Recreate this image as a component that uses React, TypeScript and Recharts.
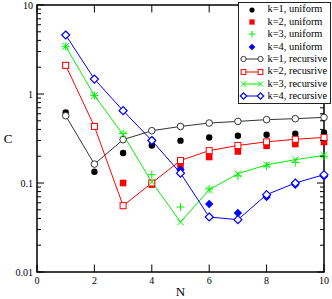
import React from "react";
import { ComposedChart, Line, XAxis, YAxis, ReferenceArea, Legend } from "recharts";

const N_VALUES = [1, 2, 3, 4, 5, 6, 7, 8, 9, 10];

const K1_UNIFORM = [0.62, 0.134, 0.217, 0.264, 0.299, 0.325, 0.34, 0.349, 0.358, 0.37];
const K2_UNIFORM = [2.1, 0.43, 0.1, 0.096, 0.154, 0.196, 0.226, 0.262, 0.274, 0.289];
const K3_UNIFORM = [3.43, 0.96, 0.36, 0.124, 0.0537, 0.0856, 0.12, 0.155, 0.17, 0.2];
const K4_UNIFORM = [4.6, 1.47, 0.65, 0.3, 0.141, 0.058, 0.046, 0.0696, 0.0957, 0.1186];

const K1_RECURSIVE = [0.57, 0.163, 0.307, 0.387, 0.432, 0.472, 0.492, 0.515, 0.528, 0.546];
const K2_RECURSIVE = [2.1, 0.432, 0.0556, 0.1, 0.179, 0.231, 0.264, 0.29, 0.31, 0.325];
const K3_RECURSIVE = [3.43, 0.96, 0.35, 0.1025, 0.0365, 0.084, 0.127, 0.16, 0.183, 0.204];
const K4_RECURSIVE = [4.6, 1.47, 0.65, 0.3, 0.129, 0.0415, 0.0387, 0.074, 0.1, 0.124];

const X_TICKS = [0, 2, 4, 6, 8, 10];
const Y_DECADES = [0.01, 0.1, 1];
const Y_MAJOR_LABELS: Record<string, string> = { "0.01": "0.01", "0.1": "0.1", "1": "1", "10": "10" };

const Y_TICKS = Y_DECADES.flatMap((d) => [1, 2, 3, 4, 5, 6, 7, 8, 9].map((m) => m * d)).concat(10);

const data = N_VALUES.map((n, i) => ({
  n,
  u1: K1_UNIFORM[i],
  u2: K2_UNIFORM[i],
  u3: K3_UNIFORM[i],
  u4: K4_UNIFORM[i],
  r1: K1_RECURSIVE[i],
  r2: K2_RECURSIVE[i],
  r3: K3_RECURSIVE[i],
  r4: K4_RECURSIVE[i],
}));

type Shape = "dot" | "square" | "plus" | "diamond" | "ocircle" | "osquare" | "cross" | "odiamond";

const SERIES: { key: string; label: string; shape: Shape; color: string; line: boolean }[] = [
  { key: "u1", label: "k=1, uniform", shape: "dot", color: "#000000", line: false },
  { key: "u2", label: "k=2, uniform", shape: "square", color: "#ff0000", line: false },
  { key: "u3", label: "k=3, uniform", shape: "plus", color: "#00f000", line: false },
  { key: "u4", label: "k=4, uniform", shape: "diamond", color: "#0000ff", line: false },
  { key: "r1", label: "k=1, recursive", shape: "ocircle", color: "#333333", line: true },
  { key: "r2", label: "k=2, recusrive", shape: "osquare", color: "#ff0000", line: true },
  { key: "r3", label: "k=3, recursive", shape: "cross", color: "#00f000", line: true },
  { key: "r4", label: "k=4, recursive", shape: "odiamond", color: "#0000ff", line: true },
];

const FONT = "'Liberation Serif', 'Times New Roman', serif";
const PLOT_LEFT = 37;
const PLOT_RIGHT = 324;
const PLOT_TOP = 5;
const PLOT_BOTTOM = 272;

const Marker = ({ shape, cx, cy, color, s = 1 }: { shape: Shape; cx: number; cy: number; color: string; s?: number }) => {
  switch (shape) {
    case "dot":
      return <circle cx={cx} cy={cy} r={3.2 * s} fill={color} />;
    case "square":
      return <rect x={cx - 3.3 * s} y={cy - 3.3 * s} width={6.6 * s} height={6.6 * s} fill={color} />;
    case "plus":
      return (
        <g stroke={color} strokeWidth={1}>
          <line x1={cx - 4 * s} y1={cy} x2={cx + 4 * s} y2={cy} />
          <line x1={cx} y1={cy - 4 * s} x2={cx} y2={cy + 4 * s} />
        </g>
      );
    case "diamond": {
      const h = 4.2 * s;
      return <polygon points={`${cx},${cy - h} ${cx + h},${cy} ${cx},${cy + h} ${cx - h},${cy}`} fill={color} />;
    }
    case "ocircle":
      return <circle cx={cx} cy={cy} r={3.3 * s} fill="#fff" stroke={color} strokeWidth={1} />;
    case "osquare":
      return <rect x={cx - 3 * s} y={cy - 3 * s} width={6 * s} height={6 * s} fill="#fff" stroke={color} strokeWidth={1} />;
    case "cross": {
      const h = 3.3 * s;
      return (
        <g stroke={color} strokeWidth={1}>
          <line x1={cx - h} y1={cy - h} x2={cx + h} y2={cy + h} />
          <line x1={cx - h} y1={cy + h} x2={cx + h} y2={cy - h} />
        </g>
      );
    }
    case "odiamond": {
      const h = 4 * s;
      return (
        <polygon
          points={`${cx},${cy - h} ${cx + h},${cy} ${cx},${cy + h} ${cx - h},${cy}`}
          fill="#fff"
          stroke={color}
          strokeWidth={1.2}
        />
      );
    }
  }
  return null;
};

const isDecade = (v: number) => Math.abs(Math.log10(v) - Math.round(Math.log10(v))) < 1e-9;

const YTick = (props: any) => {
  const { y, payload } = props;
  const major = isDecade(payload.value);
  const len = major ? 7 : 4;
  const label = Y_MAJOR_LABELS[String(Number(payload.value.toPrecision(6)))];
  return (
    <g>
      <line x1={PLOT_LEFT} y1={y} x2={PLOT_LEFT + len} y2={y} stroke="#000" strokeWidth={1} />
      <line x1={PLOT_RIGHT} y1={y} x2={PLOT_RIGHT - len} y2={y} stroke="#000" strokeWidth={1} />
      {major && label ? (
        <text x={33} y={y} dy="0.35em" textAnchor="end" fontFamily={FONT} fontSize={10} fill="#000">
          {label}
        </text>
      ) : null}
    </g>
  );
};

const XTick = (props: any) => {
  const { x, payload } = props;
  return (
    <g>
      <line x1={x} y1={PLOT_BOTTOM} x2={x} y2={PLOT_BOTTOM - 7.5} stroke="#000" strokeWidth={1} />
      <line x1={x} y1={PLOT_TOP} x2={x} y2={PLOT_TOP + 7.5} stroke="#000" strokeWidth={1} />
      <text x={x} y={284} textAnchor="middle" fontFamily={FONT} fontSize={10} fill="#000">
        {payload.value}
      </text>
    </g>
  );
};

const LegendBox = () => (
  <div
    style={{
      boxSizing: "border-box",
      width: 93,
      height: 102,
      border: "1px solid #222",
      background: "#fff",
      paddingTop: 0.5,
      fontFamily: FONT,
      fontSize: 10.4,
      color: "#000",
    }}
  >
    {SERIES.map((s) => (
      <div key={s.key} style={{ display: "flex", alignItems: "center", height: 12.4 }}>
        <svg width={28.5} height={12} style={{ flex: "none" }}>
          {s.line ? (
            <>
              <line x1={4.5} y1={6} x2={21.5} y2={6} stroke={s.color} strokeWidth={1} />
              <Marker shape={s.shape} cx={4.5} cy={6} color={s.color} s={0.8} />
              <Marker shape={s.shape} cx={21.5} cy={6} color={s.color} s={0.8} />
            </>
          ) : (
            <Marker shape={s.shape} cx={13} cy={6} color={s.color} s={0.8} />
          )}
        </svg>
        <span style={{ whiteSpace: "nowrap", lineHeight: 1 }}>{s.label}</span>
      </div>
    ))}
  </div>
);

export default function App() {
  return (
    <div style={{ position: "absolute", left: 0, top: 0, width: 332, height: 299, background: "#fff" }}>
      <ComposedChart width={332} height={299} data={data} margin={{ top: PLOT_TOP, right: 8, bottom: 0, left: 0 }}>
        <ReferenceArea x1={0} x2={10} y1={0.01} y2={10} fill="none" stroke="#000" strokeWidth={1.5} />
        <XAxis
          dataKey="n"
          type="number"
          domain={[0, 10]}
          ticks={X_TICKS}
          interval={0}
          height={27}
          axisLine={false}
          tickLine={false}
          tick={XTick}
          label={(p: any) => {
            const vb = p.viewBox;
            return (
              <text x={vb.x + vb.width / 2} y={296} textAnchor="middle" fontFamily={FONT} fontSize={13} fill="#000">
                N
              </text>
            );
          }}
        />
        <YAxis
          type="number"
          scale="log"
          domain={[0.01, 10]}
          allowDataOverflow
          ticks={Y_TICKS}
          interval={0}
          width={PLOT_LEFT}
          axisLine={false}
          tickLine={false}
          tick={YTick}
          label={(p: any) => {
            const vb = p.viewBox;
            return (
              <text x={8} y={vb.y + vb.height / 2} dy="0.35em" textAnchor="middle" fontFamily={FONT} fontSize={13} fill="#000">
                C
              </text>
            );
          }}
        />
        {SERIES.map((s) => (
          <Line
            key={s.key}
            dataKey={s.key}
            type="linear"
            stroke={s.line ? s.color : "none"}
            strokeWidth={1}
            isAnimationActive={false}
            legendType="none"
            dot={(p: any) => <Marker key={`${s.key}-${p.index}`} shape={s.shape} cx={p.cx} cy={p.cy} color={s.color} />}
            activeDot={false}
          />
        ))}
        <Legend
          layout="horizontal"
          verticalAlign="middle"
          align="center"
          wrapperStyle={{ left: 238, top: 2, width: 93, height: 102 }}
          content={() => <LegendBox />}
        />
      </ComposedChart>
    </div>
  );
}
